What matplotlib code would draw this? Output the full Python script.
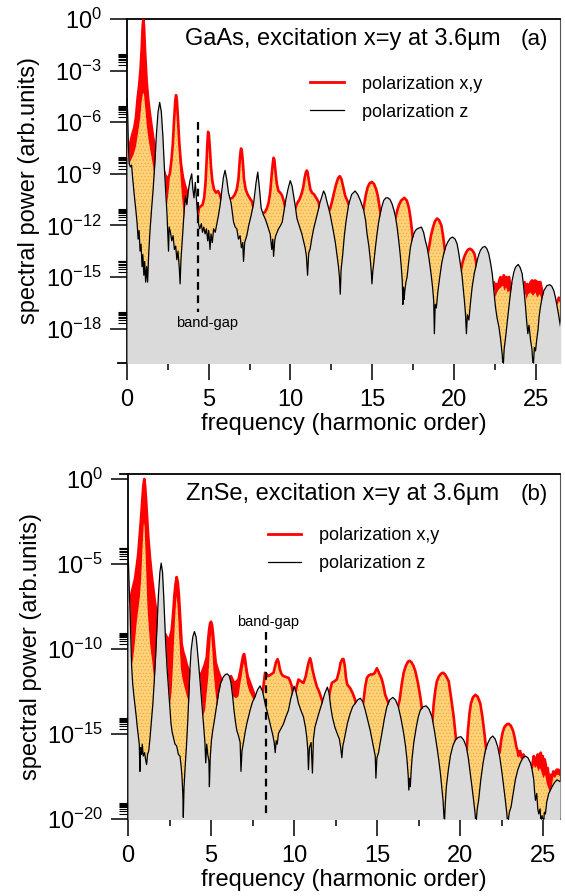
import numpy as np
import matplotlib.pyplot as plt
from matplotlib.ticker import FixedLocator, NullFormatter, FuncFormatter, MultipleLocator

plt.rcParams['font.family'] = ['Liberation Sans', 'DejaVu Sans']
plt.rcParams['mathtext.default'] = 'regular'
plt.rcParams['hatch.linewidth'] = 0.5

# values: (harmonic order, log10 spectral power)

# ---- (a) GaAs ----
gaas_z = [
    (0.0, -4.6), (0.04, -5.5), (0.08, -7.2), (0.13, -8.4), (0.2, -8.6), (0.28, -8.5), (0.35, -9.3),
    (0.45, -10.3), (0.55, -11.2), (0.62, -11.9), (0.68, -12.8), (0.74, -12.3), (0.8, -13.5), (0.86, -13.1),
    (0.92, -14.4), (0.97, -13.7), (1.03, -14.9), (1.08, -14.1), (1.14, -15.3), (1.2, -14.4), (1.26, -15.3),
    (1.32, -13.8), (1.4, -12.4), (1.5, -11.1), (1.6, -9.9), (1.7, -8.4), (1.8, -6.7), (1.9, -5.4),
    (2.0, -4.85), (2.1, -5.4), (2.2, -6.9), (2.3, -8.9), (2.38, -10.2), (2.45, -11.4), (2.5, -12.6),
    (2.54, -13.5), (2.58, -12.1), (2.66, -12.4), (2.74, -12.9), (2.82, -12.6), (2.9, -13.4), (2.98, -13.2),
    (3.05, -14.0), (3.12, -13.5), (3.2, -14.5), (3.25, -15.4), (3.3, -14.0), (3.4, -12.6), (3.5, -11.1),
    (3.58, -10.3), (3.66, -10.8), (3.75, -10.0), (3.85, -9.4), (3.96, -9.0), (4.03, -9.9), (4.1, -10.4),
    (4.18, -9.5), (4.26, -10.6), (4.35, -11.8), (4.45, -12.2), (4.55, -11.9), (4.62, -12.4), (4.7, -12.1),
    (4.78, -12.5), (4.86, -12.2), (4.94, -12.9), (5.0, -12.3), (5.08, -13.4), (5.14, -12.5), (5.22, -13.0),
    (5.3, -12.2), (5.4, -12.4), (5.5, -11.9), (5.6, -11.4), (5.7, -10.8), (5.8, -10.0), (5.9, -9.2),
    (6.0, -8.8), (6.1, -9.3), (6.21, -10.1), (6.37, -10.7), (6.52, -11.8), (6.62, -12.1), (6.72, -12.2),
    (6.82, -12.8), (6.92, -12.6), (7.0, -13.3), (7.08, -13.0), (7.13, -14.1), (7.2, -13.0), (7.33, -12.6),
    (7.45, -12.0), (7.6, -11.4), (7.75, -10.7), (7.9, -9.5), (8.0, -8.9), (8.1, -9.8), (8.21, -11.0),
    (8.35, -11.4), (8.45, -11.6), (8.56, -11.9), (8.66, -12.2), (8.76, -12.5), (8.86, -13.4), (8.92, -12.8),
    (8.97, -13.8), (9.04, -12.9), (9.1, -12.6), (9.27, -12.2), (9.4, -12.0), (9.5, -11.8), (9.6, -11.2),
    (9.7, -10.6), (9.85, -9.9), (9.99, -9.4), (10.1, -9.7), (10.2, -10.3), (10.3, -10.9), (10.4, -11.6),
    (10.5, -11.9), (10.6, -12.2), (10.7, -12.5), (10.8, -12.9), (10.9, -13.3), (10.98, -13.8), (11.05, -14.9),
    (11.12, -13.6), (11.2, -13.4), (11.3, -12.8), (11.42, -12.2), (11.55, -11.7), (11.68, -11.2), (11.8, -10.7),
    (11.93, -10.3), (12.03, -10.0), (12.13, -10.2), (12.23, -10.6), (12.34, -11.0), (12.44, -11.4), (12.54, -11.9),
    (12.64, -12.4), (12.75, -13.0), (12.85, -13.7), (12.93, -14.3), (13.0, -15.0), (13.05, -16.0), (13.1, -14.6),
    (13.2, -13.7), (13.3, -12.6), (13.4, -11.8), (13.56, -10.8), (13.75, -10.2), (13.96, -10.0), (14.12, -10.2),
    (14.28, -10.55), (14.48, -11.1), (14.6, -11.7), (14.69, -12.5), (14.8, -13.2), (14.89, -14.0), (14.95, -14.7),
    (14.99, -15.4), (15.04, -14.7), (15.1, -14.2), (15.2, -13.3), (15.3, -12.5), (15.4, -11.8), (15.5, -11.3),
    (15.6, -10.9), (15.71, -10.55), (15.84, -10.4), (15.97, -10.4), (16.1, -10.5), (16.22, -10.75), (16.33, -11.1),
    (16.43, -11.5), (16.53, -12.1), (16.63, -12.9), (16.72, -13.7), (16.8, -14.6), (16.85, -15.3), (16.88, -16.6),
    (16.92, -15.6), (16.96, -16.3), (17.0, -15.8), (17.07, -15.3), (17.14, -15.0), (17.24, -14.1), (17.34, -13.3),
    (17.45, -12.8), (17.55, -12.5), (17.65, -12.3), (17.76, -12.2), (17.88, -12.15), (18.02, -12.1), (18.15, -12.4),
    (18.26, -12.9), (18.37, -13.3), (18.47, -13.85), (18.55, -14.4), (18.63, -15.0), (18.7, -15.6), (18.77, -16.4),
    (18.81, -18.3), (18.86, -16.6), (18.93, -16.8), (19.03, -15.8), (19.14, -15.0), (19.26, -14.2), (19.38, -13.65),
    (19.5, -13.25), (19.63, -12.97), (19.78, -12.75), (19.93, -12.68), (20.08, -12.8), (20.2, -13.07), (20.3, -13.6),
    (20.4, -14.24), (20.5, -14.9), (20.57, -15.6), (20.65, -16.4), (20.71, -17.1), (20.77, -18.3), (20.83, -17.2),
    (20.92, -17.5), (21.02, -16.5), (21.12, -15.6), (21.25, -14.8), (21.43, -14.04), (21.53, -13.7), (21.63, -13.45),
    (21.76, -13.28), (21.9, -13.22), (22.02, -13.35), (22.14, -13.65), (22.25, -14.2), (22.35, -14.8), (22.45, -15.8),
    (22.55, -16.75), (22.65, -17.4), (22.76, -17.9), (22.86, -18.6), (22.96, -19.5), (23.02, -20.3), (23.08, -19.2),
    (23.17, -18.5), (23.27, -17.6), (23.37, -16.75), (23.47, -15.9), (23.57, -15.2), (23.68, -14.7), (23.78, -14.43),
    (23.94, -14.27), (24.06, -14.45), (24.18, -14.8), (24.28, -15.6), (24.39, -16.75), (24.46, -17.6), (24.53, -18.3),
    (24.6, -17.8), (24.7, -18.7), (24.78, -19.2), (24.86, -20.3), (24.93, -19.1), (25.0, -19.3), (25.08, -18.6),
    (25.15, -18.1), (25.22, -17.3), (25.3, -16.75), (25.4, -16.2), (25.51, -15.8), (25.7, -15.5), (25.88, -15.45),
    (26.0, -15.55), (26.12, -15.8), (26.22, -16.2), (26.33, -16.75), (26.43, -17.3), (26.53, -17.9),
]

gaas_xy = [
    (0.08, -8.0), (0.15, -7.4), (0.3, -6.8), (0.45, -6.3), (0.55, -5.7), (0.65, -4.6), (0.75, -3.8),
    (0.83, -2.9), (0.9, -1.7), (0.96, -0.4), (1.0, -0.05), (1.04, -0.4), (1.1, -1.8), (1.2, -3.6),
    (1.3, -4.7), (1.4, -5.5), (1.5, -6.2), (1.6, -6.9), (1.72, -7.5), (1.85, -8.5), (2.0, -9.5),
    (2.15, -8.9), (2.25, -8.8), (2.35, -9.1), (2.5, -9.3), (2.62, -9.0), (2.72, -8.2), (2.8, -7.3),
    (2.88, -5.9), (2.95, -4.8), (3.0, -4.43), (3.05, -4.7), (3.12, -5.8), (3.2, -7.2), (3.3, -8.4),
    (3.42, -9.2), (3.55, -9.7), (3.66, -10.0), (3.76, -10.6), (3.9, -11.0), (4.05, -11.3), (4.2, -11.2),
    (4.35, -11.0), (4.5, -10.9), (4.62, -10.8), (4.72, -10.4), (4.8, -9.6), (4.86, -8.5), (4.92, -7.2),
    (4.96, -6.56), (5.01, -6.7), (5.07, -7.5), (5.14, -8.6), (5.22, -9.4), (5.32, -9.9), (5.45, -10.1),
    (5.57, -10.0), (5.7, -10.25), (5.82, -10.7), (6.0, -11.5), (6.2, -10.6), (6.31, -10.45), (6.45, -10.4),
    (6.6, -10.2), (6.72, -9.9), (6.82, -9.3), (6.9, -8.2), (6.95, -7.7), (6.98, -7.53), (7.02, -7.6),
    (7.08, -8.2), (7.16, -9.3), (7.26, -9.9), (7.38, -10.2), (7.5, -10.4), (7.64, -10.6), (7.8, -11.2),
    (8.0, -11.8), (8.2, -11.5), (8.35, -11.3), (8.46, -11.2), (8.56, -11.0), (8.66, -10.7), (8.76, -10.1),
    (8.85, -9.1), (8.92, -8.4), (8.97, -8.07), (9.02, -8.2), (9.09, -8.9), (9.17, -9.6), (9.27, -10.0),
    (9.38, -10.1), (9.48, -10.25), (9.6, -10.6), (9.8, -11.5), (10.0, -12.0), (10.2, -11.4), (10.3, -11.0),
    (10.42, -10.7), (10.55, -10.5), (10.67, -10.2), (10.78, -9.8), (10.88, -9.2), (10.95, -8.9), (11.0, -8.81),
    (11.05, -8.9), (11.13, -9.4), (11.22, -9.9), (11.32, -10.1), (11.45, -10.2), (11.58, -10.4), (11.72, -10.64),
    (11.85, -11.2), (12.0, -12.0), (12.2, -11.6), (12.35, -11.2), (12.44, -11.0), (12.55, -10.6), (12.67, -10.1),
    (12.8, -9.6), (12.92, -9.25), (13.02, -9.14), (13.12, -9.3), (13.24, -9.8), (13.36, -10.3), (13.5, -10.6),
    (13.62, -10.93), (13.8, -11.6), (14.0, -12.0), (14.2, -11.7), (14.38, -11.3), (14.48, -11.0), (14.6, -10.3),
    (14.72, -9.8), (14.85, -9.55), (14.99, -9.47), (15.12, -9.6), (15.25, -9.9), (15.35, -10.3), (15.45, -10.9),
    (15.55, -11.5), (15.8, -12.3), (16.0, -12.5), (16.3, -12.0), (16.45, -11.5), (16.55, -11.1), (16.65, -10.8),
    (16.78, -10.55), (16.97, -10.4), (17.12, -10.55), (17.24, -10.93), (17.34, -11.5), (17.44, -12.3),
    (17.55, -13.3), (17.8, -14.0), (18.0, -14.2), (18.3, -14.0), (18.47, -13.36), (18.6, -12.6), (18.73, -12.1),
    (18.85, -11.75), (18.98, -11.6), (19.1, -11.7), (19.24, -12.0), (19.34, -12.6), (19.43, -13.26),
    (19.55, -14.2), (19.8, -15.0), (20.0, -15.2), (20.25, -15.0), (20.4, -14.8), (20.5, -14.3), (20.57, -14.04),
    (20.67, -13.75), (20.77, -13.55), (20.88, -13.4), (21.0, -13.36), (21.13, -13.45), (21.26, -13.65),
    (21.36, -14.1), (21.43, -14.6), (21.49, -15.16), (21.7, -15.8), (22.0, -16.0), (22.3, -15.8), (22.45, -15.3),
    (22.52, -15.7), (22.58, -15.4), (22.69, -15.6), (22.78, -15.2), (22.86, -15.0), (22.96, -15.2), (23.06, -14.9),
    (23.16, -15.4), (23.22, -15.0), (23.3, -15.2), (23.38, -15.0), (23.47, -15.6), (23.57, -15.4), (23.7, -16.0),
    (24.0, -16.5), (24.2, -16.0), (24.33, -15.3), (24.4, -15.9), (24.5, -15.4), (24.6, -15.6), (24.7, -15.3),
    (24.79, -15.2), (24.88, -15.5), (24.96, -15.2), (25.06, -15.25), (25.13, -15.6), (25.2, -15.3), (25.3, -15.3),
    (25.36, -15.6), (25.41, -15.8), (25.6, -16.4), (26.0, -17.0), (26.3, -16.5), (26.43, -16.2), (26.53, -16.4),
]

# lower edge of the x,y band (orange top) where it differs from the red line
gaas_xy_low_left = [
    (0.08, -8.6), (0.15, -8.4), (0.25, -8.2), (0.4, -7.9), (0.55, -7.4), (0.68, -6.6), (0.8, -5.8),
    (0.9, -4.8), (0.96, -4.4), (1.0, -4.3), (1.04, -4.4), (1.1, -5.0), (1.2, -6.1), (1.3, -6.9),
    (1.42, -7.6), (1.55, -8.3), (1.7, -9.2), (1.85, -9.8), (2.0, -11.0), (2.2, -11.5), (2.35, -11.2),
    (2.45, -10.8), (2.55, -10.0), (2.65, -9.0), (2.75, -7.8), (2.85, -6.0), (2.93, -4.9), (3.0, -4.5),
    (3.06, -5.0), (3.14, -6.8), (3.25, -8.8), (3.36, -10.3), (3.48, -11.4), (3.66, -12.2), (3.85, -12.5),
    (4.1, -12.5), (4.35, -11.9),
]
gaas_xy_low_right = [
    (22.45, -15.6), (22.55, -16.2), (22.65, -15.9), (22.78, -15.7), (22.9, -15.6), (23.0, -15.5),
    (23.1, -15.8), (23.2, -15.6), (23.3, -15.9), (23.4, -15.8), (23.5, -16.2), (23.6, -16.0), (23.7, -16.5),
    (24.0, -17.0), (24.33, -15.8), (24.45, -16.3), (24.55, -16.0), (24.7, -15.9), (24.85, -16.1),
    (25.0, -15.9), (25.1, -16.2), (25.25, -16.0), (25.38, -16.3), (25.45, -16.4), (25.6, -16.6),
    (26.0, -17.0), (26.3, -16.5), (26.43, -16.3), (26.53, -16.5),
]

# ---- (b) ZnSe ----
znse_z = [
    (0.0, -4.4), (0.03, -5.0), (0.07, -6.3), (0.12, -7.6), (0.17, -9.3), (0.22, -11.0), (0.28, -12.0),
    (0.35, -12.7), (0.42, -13.3), (0.5, -14.0), (0.56, -14.6), (0.62, -15.1), (0.68, -15.6), (0.72, -17.2),
    (0.76, -15.8), (0.82, -16.2), (0.86, -15.6), (0.92, -16.3), (1.0, -16.1), (1.06, -16.5), (1.12, -16.8),
    (1.18, -16.2), (1.25, -16.0), (1.32, -15.3), (1.4, -14.4), (1.5, -13.2), (1.58, -11.9), (1.67, -10.3),
    (1.75, -8.6), (1.83, -6.9), (1.92, -5.5), (2.0, -4.96), (2.08, -5.5), (2.15, -6.9), (2.21, -8.3),
    (2.27, -9.7), (2.35, -11.1), (2.43, -12.2), (2.52, -13.5), (2.59, -14.4), (2.66, -14.9), (2.73, -15.2),
    (2.83, -15.6), (2.93, -15.7), (3.03, -16.2), (3.13, -16.3), (3.2, -16.9), (3.25, -17.5), (3.3, -18.5),
    (3.33, -19.9), (3.37, -18.2), (3.43, -17.1), (3.52, -15.7), (3.6, -14.2), (3.67, -12.6), (3.73, -11.2),
    (3.8, -10.1), (3.9, -9.3), (4.0, -8.98), (4.1, -9.3), (4.18, -10.1), (4.28, -11.2), (4.38, -12.4),
    (4.48, -13.6), (4.56, -14.6), (4.63, -15.5), (4.68, -16.7), (4.74, -15.6), (4.8, -16.2), (4.87, -16.6),
    (4.9, -18.1), (4.95, -16.4), (5.02, -15.4), (5.1, -14.8), (5.2, -14.2), (5.34, -13.3), (5.45, -12.6),
    (5.58, -12.0), (5.74, -11.65), (5.87, -11.5), (5.98, -11.47), (6.1, -11.6), (6.2, -12.0), (6.3, -12.8),
    (6.38, -13.6), (6.47, -14.3), (6.55, -14.8), (6.65, -15.1), (6.75, -15.5), (6.8, -17.2), (6.86, -16.0),
    (6.95, -15.5), (7.05, -14.9), (7.15, -14.4), (7.25, -14.0), (7.35, -13.6), (7.5, -13.1), (7.65, -12.8),
    (7.8, -12.4), (7.95, -12.18), (8.1, -12.5), (8.25, -13.2), (8.38, -13.7), (8.5, -14.2), (8.6, -14.6),
    (8.7, -15.0), (8.8, -15.5), (8.86, -16.1), (8.92, -15.4), (8.98, -15.6), (9.06, -14.96), (9.2, -14.7),
    (9.36, -14.4), (9.5, -14.0), (9.66, -13.6), (9.8, -12.9), (10.0, -12.2), (10.13, -12.6), (10.26, -13.2),
    (10.4, -13.6), (10.56, -14.0), (10.68, -14.6), (10.76, -15.2), (10.82, -15.9), (10.86, -17.1),
    (10.92, -15.8), (11.02, -15.5), (11.1, -17.3), (11.16, -15.3), (11.25, -14.6), (11.45, -13.9),
    (11.67, -13.2), (11.85, -12.6), (12.0, -12.25), (12.1, -12.6), (12.2, -13.4), (12.3, -14.0), (12.45, -14.6),
    (12.6, -15.0), (12.72, -15.3), (12.8, -15.8), (12.87, -16.4), (12.93, -15.7), (13.0, -15.4), (13.1, -14.9),
    (13.2, -14.4), (13.37, -13.8), (13.52, -13.4), (13.67, -13.2), (13.82, -13.0), (13.98, -12.9), (14.13, -13.1),
    (14.28, -13.6), (14.43, -14.2), (14.58, -14.8), (14.7, -15.4), (14.8, -15.9), (14.88, -16.3), (14.92, -17.6),
    (14.98, -16.4), (15.08, -16.1), (15.18, -15.5), (15.28, -14.96), (15.43, -14.1), (15.58, -13.4),
    (15.75, -13.0), (15.94, -12.85), (16.1, -13.0), (16.27, -13.4), (16.43, -14.1), (16.59, -14.96), (16.7, -15.7),
    (16.79, -16.5), (16.86, -17.4), (16.9, -18.3), (16.95, -17.6), (16.99, -18.1), (17.04, -17.2), (17.09, -16.5),
    (17.2, -15.5), (17.35, -14.6), (17.47, -14.0), (17.59, -13.6), (17.77, -13.4), (17.95, -13.35), (18.12, -13.55),
    (18.29, -13.98), (18.44, -14.8), (18.59, -15.75), (18.7, -16.5), (18.8, -17.3), (18.9, -18.3), (18.96, -18.9),
    (19.0, -19.6), (19.04, -20.3), (19.1, -19.0), (19.16, -18.1), (19.28, -17.1), (19.4, -16.3), (19.55, -15.7),
    (19.7, -15.35), (19.87, -15.2), (20.04, -15.16), (20.2, -15.35), (20.36, -15.75), (20.48, -16.4), (20.6, -17.3),
    (20.7, -18.1), (20.8, -18.9), (20.88, -19.6), (20.94, -20.3), (21.02, -19.4), (21.1, -18.9), (21.23, -17.7),
    (21.37, -16.7), (21.5, -16.0), (21.65, -15.55), (21.8, -15.25), (21.95, -15.12), (22.1, -15.3), (22.25, -15.75),
    (22.38, -16.4), (22.51, -17.3), (22.61, -18.1), (22.71, -18.9), (22.79, -19.6), (22.85, -20.3), (22.95, -19.6),
    (23.05, -19.3), (23.18, -18.5), (23.31, -17.7), (23.46, -17.1), (23.61, -16.7), (23.77, -16.4), (23.92, -16.3),
    (24.07, -16.4), (24.22, -16.7), (24.32, -17.1), (24.42, -17.7), (24.47, -18.4), (24.52, -18.9), (24.6, -18.5),
    (24.66, -19.4), (24.72, -19.7), (24.8, -19.4), (24.86, -20.3), (24.92, -19.8), (25.0, -20.3), (25.06, -19.6),
    (25.12, -19.7), (25.2, -19.0), (25.32, -18.5), (25.42, -18.3), (25.52, -18.1), (25.67, -17.85), (25.82, -17.7),
    (25.92, -17.75), (26.0, -17.8),
]

znse_xy = [
    (0.05, -7.4), (0.12, -7.2), (0.22, -6.7), (0.32, -6.3), (0.42, -5.9), (0.52, -5.2), (0.62, -4.4),
    (0.7, -3.4), (0.78, -2.4), (0.86, -1.3), (0.92, -0.45), (0.98, -0.02), (1.03, -0.4), (1.08, -1.1),
    (1.15, -2.3), (1.22, -3.4), (1.32, -4.6), (1.43, -5.7), (1.53, -6.5), (1.63, -7.3), (1.75, -8.0),
    (1.9, -9.0), (2.0, -9.5), (2.12, -9.2), (2.23, -9.1), (2.33, -9.3), (2.43, -9.5), (2.53, -9.3),
    (2.63, -8.9), (2.72, -7.9), (2.79, -6.9), (2.86, -6.2), (2.93, -5.78), (3.0, -6.1), (3.07, -6.9),
    (3.15, -8.3), (3.23, -9.7), (3.33, -10.2), (3.43, -10.5), (3.53, -10.9), (3.63, -11.2), (3.8, -11.4),
    (4.0, -12.0), (4.2, -11.8), (4.28, -11.6), (4.44, -11.4), (4.6, -11.0), (4.74, -10.5), (4.82, -9.5),
    (4.88, -8.9), (4.94, -8.5), (5.0, -8.4), (5.06, -8.6), (5.12, -9.1), (5.2, -10.0), (5.28, -10.8),
    (5.4, -11.2), (5.54, -11.6), (5.74, -12.0), (5.9, -12.5), (6.0, -12.8), (6.12, -12.2), (6.2, -11.6),
    (6.33, -11.9), (6.45, -12.0), (6.55, -11.9), (6.65, -11.8), (6.78, -11.2), (6.85, -10.8), (6.93, -10.4),
    (6.99, -10.3), (7.05, -10.6), (7.1, -11.0), (7.2, -11.6), (7.35, -12.0), (7.5, -12.4), (7.65, -12.8),
    (7.8, -13.2), (7.95, -13.5), (8.1, -12.6), (8.25, -11.4), (8.35, -11.5), (8.45, -11.6), (8.6, -11.5),
    (8.76, -11.4), (8.85, -11.0), (8.9, -10.8), (9.0, -10.6), (9.07, -10.8), (9.14, -11.2), (9.25, -11.5),
    (9.36, -11.6), (9.5, -11.65), (9.66, -11.7), (9.76, -11.9), (9.86, -12.2), (10.0, -13.0), (10.13, -12.3),
    (10.26, -11.8), (10.4, -11.9), (10.56, -12.0), (10.7, -11.6), (10.82, -11.0), (10.9, -10.7), (10.96, -10.55),
    (11.03, -10.8), (11.1, -11.2), (11.22, -11.7), (11.36, -12.2), (11.5, -12.5), (11.67, -13.0), (11.83, -13.6),
    (12.0, -13.5), (12.15, -12.5), (12.27, -12.0), (12.42, -11.9), (12.57, -11.8), (12.7, -11.3), (12.8, -10.8),
    (12.9, -10.6), (12.97, -10.6), (13.05, -11.0), (13.12, -11.7), (13.2, -12.1), (13.37, -12.3), (13.52, -12.6),
    (13.67, -13.0), (13.8, -13.5), (14.0, -14.0), (14.18, -13.0), (14.28, -12.2), (14.38, -11.7), (14.5, -11.55),
    (14.62, -11.5), (14.72, -11.5), (14.82, -11.45), (14.9, -11.3), (14.98, -11.14), (15.06, -11.3),
    (15.14, -11.5), (15.2, -11.6), (15.28, -11.8), (15.38, -12.2), (15.48, -12.7), (15.68, -13.2), (15.9, -13.8),
    (16.2, -13.6), (16.35, -12.98), (16.47, -12.1), (16.59, -11.4), (16.72, -11.0), (16.85, -10.75),
    (16.95, -10.7), (17.07, -10.8), (17.18, -11.0), (17.29, -11.3), (17.45, -12.0), (17.59, -12.8),
    (17.67, -13.4), (17.75, -13.98), (18.0, -14.5), (18.29, -14.6), (18.4, -13.2), (18.5, -12.4), (18.59, -11.9),
    (18.72, -11.6), (18.85, -11.45), (18.96, -11.4), (19.08, -11.5), (19.2, -11.7), (19.3, -11.9), (19.45, -12.9),
    (19.6, -13.98), (19.76, -15.5), (20.0, -16.0), (20.36, -16.3), (20.45, -14.9), (20.55, -13.8), (20.64, -13.2),
    (20.76, -12.85), (20.9, -12.7), (21.04, -12.8), (21.2, -13.2), (21.33, -14.0), (21.45, -14.96), (21.6, -16.3),
    (22.0, -16.5), (22.37, -16.1), (22.45, -15.4), (22.55, -14.9), (22.65, -14.6), (22.78, -14.45), (22.9, -14.4),
    (23.03, -14.5), (23.17, -14.8), (23.27, -15.2), (23.37, -15.75), (23.45, -16.0), (23.5, -16.3), (23.6, -16.0),
    (23.7, -16.4), (23.8, -16.2), (24.0, -17.0), (24.3, -17.0), (24.42, -16.3), (24.48, -16.6), (24.52, -16.4),
    (24.6, -16.5), (24.66, -16.2), (24.72, -16.6), (24.78, -16.3), (24.84, -16.1), (24.9, -16.5), (24.96, -16.3),
    (25.02, -16.9), (25.08, -16.5), (25.14, -16.8), (25.2, -17.4), (25.26, -17.0), (25.32, -17.6), (25.4, -17.4),
    (25.5, -17.5), (25.6, -17.2), (25.7, -17.3), (25.8, -17.1), (25.9, -17.1), (26.0, -17.2),
]

znse_xy_low_left = [
    (0.05, -10.5), (0.12, -11.6), (0.22, -11.0), (0.32, -10.5), (0.42, -9.6), (0.52, -8.5), (0.62, -7.7),
    (0.72, -6.9), (0.8, -5.8), (0.86, -4.4), (0.92, -3.2), (0.96, -2.6), (1.0, -2.8), (1.06, -4.4),
    (1.12, -6.1), (1.18, -7.7), (1.26, -8.8), (1.33, -9.7), (1.4, -10.3), (1.47, -10.8), (1.59, -12.0),
    (1.7, -12.8), (1.85, -13.5), (2.0, -14.0), (2.2, -13.0), (2.33, -11.6), (2.43, -12.6), (2.53, -13.3),
    (2.63, -12.5), (2.73, -10.5), (2.83, -8.3), (2.9, -7.2), (2.93, -6.9), (2.98, -7.5), (3.03, -8.3),
    (3.11, -9.8), (3.19, -11.2), (3.29, -11.8), (3.39, -12.2), (3.55, -12.8), (3.7, -13.2), (4.0, -14.0),
    (4.3, -13.8), (4.44, -14.2), (4.54, -13.9), (4.64, -13.6), (4.74, -12.6), (4.84, -11.6), (4.92, -10.2),
    (5.0, -9.1), (5.07, -10.0), (5.14, -11.2), (5.24, -12.3), (5.34, -13.2), (5.5, -13.7), (5.64, -14.0),
    (5.9, -14.5), (6.2, -14.0), (6.35, -12.8), (6.5, -12.9), (6.65, -12.8), (6.77, -12.0), (6.85, -11.6),
    (6.93, -11.0), (6.99, -10.8), (7.06, -11.3), (7.15, -12.0), (7.3, -12.5), (7.55, -13.0), (7.7, -13.3),
    (7.95, -14.0), (8.1, -13.0),
]
znse_xy_low_right = [
    (24.42, -16.8), (24.5, -17.0), (24.6, -16.9), (24.7, -17.2), (24.8, -17.0), (24.9, -17.3), (25.0, -17.6),
    (25.1, -17.4), (25.2, -17.9), (25.3, -18.2), (25.4, -18.4), (25.5, -18.1), (25.6, -17.5), (25.7, -17.6),
    (25.8, -17.4), (25.9, -17.4), (26.0, -17.5),
]

titles = ["GaAs, excitation x=y at 3.6\u00b5m", "ZnSe, excitation x=y at 3.6\u00b5m"]
tags = ["(a)", "(b)"]
band_gap = [4.35, 8.3]          # harmonic order of the band gap
legend_labels = ["polarization x,y", "polarization z"]


def to_xy(points):
    f, p = np.array(points).T
    return f, 10.0 ** p


def draw_panel(ax, z, xy, low_left, low_right):
    low = low_left + [q for q in xy if low_left[-1][0] < q[0] < low_right[0][0]] + low_right
    zf, zp = to_xy(z)
    hf, hp = to_xy(xy)
    lf, lp = to_xy(low)
    ax.fill_between(hf, hp, 1e-30, color='red', lw=0, zorder=1)
    ax.fill_between(lf, lp, 1e-30, facecolor='#FFD27A', edgecolor='#F0A838', hatch='.....', lw=0, zorder=2)
    ax.plot(hf, hp, color='red', lw=1.9, zorder=3, solid_joinstyle='round')
    ax.fill_between(zf, zp, 1e-30, color='#DADADA', lw=0, zorder=4)
    ax.plot(zf, zp, color='black', lw=0.9, zorder=5)


fig = plt.figure(figsize=(5.65, 8.96), dpi=100)
ax_a = fig.add_axes([0.2248, 0.5949, 0.7664, 0.3839])
ax_b = fig.add_axes([0.2265, 0.0859, 0.7647, 0.3851])

draw_panel(ax_a, gaas_z, gaas_xy, gaas_xy_low_left, gaas_xy_low_right)
draw_panel(ax_b, znse_z, znse_xy, znse_xy_low_left, znse_xy_low_right)

ax_a.set_xlim(0, 26.5)
ax_b.set_xlim(0, 26.0)
ax_a.set_yscale('log')
ax_b.set_yscale('log')
ax_a.set_ylim(1e-20, 1)
ax_b.set_ylim(1e-20, 1.9)

major_exp = [list(range(0, -21, -3)), list(range(0, -21, -5))]
for ax, exps in zip([ax_a, ax_b], major_exp):
    ax.yaxis.set_major_locator(FixedLocator([10.0 ** e for e in exps]))
    ax.yaxis.set_minor_locator(FixedLocator([k * 10.0 ** e for e in exps[1:] for k in range(2, 10)]))
    ax.yaxis.set_major_formatter(FuncFormatter(lambda v, pos: r'$10^{%d}$' % round(np.log10(v))))
    ax.yaxis.set_minor_formatter(NullFormatter())
    ax.xaxis.set_major_locator(MultipleLocator(5))
    ax.xaxis.set_minor_locator(MultipleLocator(2.5))
    ax.tick_params(axis='both', which='major', direction='out', length=12, width=1.1, labelsize=17)
    ax.tick_params(axis='y', which='major', pad=6)
    ax.tick_params(axis='x', which='major', pad=7)
    ax.tick_params(axis='y', which='minor', direction='out', length=6.5, width=0.8)
    ax.tick_params(axis='x', which='minor', direction='out', length=5, width=1.1)
    ax.tick_params(top=False, right=False, which='both')
    for side in ['left', 'bottom', 'top']:
        ax.spines[side].set_linewidth(1.3)
    ax.spines['right'].set_linewidth(0.8)
    ax.spines['right'].set_color('#555555')
    ax.set_ylabel("spectral power (arb.units)", fontsize=17)
    ax.yaxis.set_label_coords(-0.2, 0.5)
    ax.set_xlabel("frequency (harmonic order)", fontsize=17)
    ax.xaxis.set_label_coords(0.5, -0.145)

# frame lines poking out to the left, as in the original
ax_a.plot([-0.021, 0], [0, 0], transform=ax_a.transAxes, color='black', lw=1.3, clip_on=False)
ax_b.plot([-0.019, 0], [1, 1], transform=ax_b.transAxes, color='black', lw=1.3, clip_on=False)

# band-gap markers
ax_a.plot([band_gap[0], band_gap[0]], [1e-6, 10 ** -17.06], color='black', lw=1.6, ls=(0, (3.5, 2.5)), zorder=6)
ax_a.text(band_gap[0] + 0.55, 10 ** -17.7, "band-gap", fontsize=10.5, ha='center', va='center', zorder=6)
ax_b.plot([band_gap[1], band_gap[1]], [1e-9, 10 ** -19.7], color='black', lw=1.6, ls=(0, (3.5, 2.5)), zorder=6)
ax_b.text(band_gap[1] + 0.15, 10 ** -8.4, "band-gap", fontsize=10.5, ha='center', va='center', zorder=6)

# titles, tags and legends
for ax, title, tag, leg_x, leg_y in zip([ax_a, ax_b], titles, tags, [0.423, 0.324], [0.835, 0.845]):
    ax.text(0.134, 0.943, title, transform=ax.transAxes, fontsize=17, ha='left', va='center', zorder=7)
    ax.text(0.94, 0.94, tag, transform=ax.transAxes, fontsize=16, ha='center', va='center', zorder=7)
    h1, = ax.plot([], [], color='red', lw=2)
    h2, = ax.plot([], [], color='black', lw=0.9)
    ax.legend([h1, h2], legend_labels, loc='upper left', bbox_to_anchor=(leg_x, leg_y), frameon=False,
              fontsize=13, handlelength=1.85, handletextpad=1.0, labelspacing=0.6, borderpad=0,
              borderaxespad=0)

fig.savefig("out.png", dpi=100)
